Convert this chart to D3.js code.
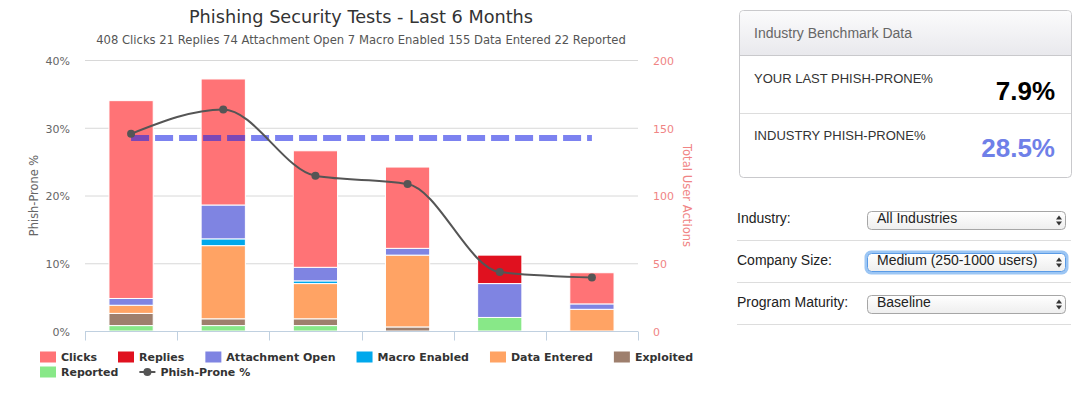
<!DOCTYPE html>
<html>
<head>
<meta charset="utf-8">
<script src="https://cdn.jsdelivr.net/npm/d3@7"></script>
<style>
  body { margin: 0; background: #fff; }
  svg { display: block; }
</style>
</head>
<body>
<div id="chart"></div>
<script>
// data
var tests = ["Test 1", "Test 2", "Test 3", "Test 4", "Test 5", "Test 6"];
var clicks      = [146, 93, 86, 60, 0, 23];
var replies     = [0, 0, 0, 0, 21, 0];
var attachment  = [5, 25, 10, 5, 25, 4];
var macro       = [0, 5, 2, 0, 0, 0];
var dataEntered = [6, 54, 26, 53, 0, 16];
var exploited   = [9, 5, 5, 3, 0, 0];
var reported    = [4, 4, 4, 0, 10, 0];
var phishProne  = [29.1, 32.7, 22.9, 21.7, 8.7, 7.9];
var industryProne = 28.5;
var leftTicks  = [0, 10, 20, 30, 40];
var rightTicks = [0, 50, 100, 150, 200];
var formLabels  = ["Industry:", "Company Size:", "Program Maturity:"];
var formValues  = ["All Industries", "Medium (250-1000 users)", "Baseline"];

var seriesNames  = ["Clicks", "Replies", "Attachment Open", "Macro Enabled", "Data Entered", "Exploited", "Reported"];
var seriesValues = [clicks, replies, attachment, macro, dataEntered, exploited, reported];
var seriesColors = ["#ff7376", "#e0111f", "#7f84e2", "#00a8ec", "#ffa364", "#9e7f6d", "#88e888"];

var width = 1081, height = 393;
var svg = d3.select("#chart").append("svg")
    .attr("width", width)
    .attr("height", height);

var plot = {left: 85, right: 638, top: 60, bottom: 331};

var x = d3.scaleBand()
    .domain(d3.range(tests.length))
    .range([plot.left, plot.right]);
var yLeft = d3.scaleLinear().domain([0, 40]).range([plot.bottom, plot.top]);
var yRight = d3.scaleLinear().domain([0, 200]).range([plot.bottom, plot.top]);

var chartFont = "'DejaVu Sans', sans-serif";

// title and totals
svg.append("text")
    .attr("x", 361).attr("y", 23)
    .attr("text-anchor", "middle")
    .style("font", "17.7px " + chartFont)
    .style("fill", "#333")
    .text("Phishing Security Tests - Last 6 Months");

var subtitle = [
    d3.sum(clicks) + " Clicks",
    d3.sum(replies) + " Replies",
    d3.sum(attachment) + " Attachment Open",
    d3.sum(macro) + " Macro Enabled",
    d3.sum(dataEntered) + " Data Entered",
    d3.sum(reported) + " Reported"
].join(" ");
svg.append("text")
    .attr("x", 361).attr("y", 44)
    .attr("text-anchor", "middle")
    .style("font", "11.6px " + chartFont)
    .style("fill", "#555")
    .text(subtitle);

// grid
svg.append("g").selectAll("line")
    .data(leftTicks.filter(function(d) { return d > 0; }))
    .enter().append("line")
    .attr("x1", plot.left).attr("x2", plot.right)
    .attr("y1", function(d) { return yLeft(d) + 0.5; })
    .attr("y2", function(d) { return yLeft(d) + 0.5; })
    .attr("stroke", "#d8d8d8");

// left axis
var leftAxis = svg.append("g")
    .attr("transform", "translate(" + (plot.left - 15) + ",0)")
    .call(d3.axisLeft(yLeft).tickValues(leftTicks).tickSize(0).tickPadding(0)
        .tickFormat(function(d) { return d + "%"; }));
leftAxis.select(".domain").remove();
leftAxis.selectAll("text")
    .attr("dy", "0.4em")
    .style("font", "11px " + chartFont)
    .style("fill", "#666");

svg.append("text")
    .attr("transform", "translate(38," + ((plot.top + plot.bottom) / 2) + ") rotate(-90)")
    .attr("text-anchor", "middle")
    .style("font", "11.4px " + chartFont)
    .style("fill", "#666")
    .text("Phish-Prone %");

// right axis
var rightAxis = svg.append("g")
    .attr("transform", "translate(" + (plot.right + 15) + ",0)")
    .call(d3.axisRight(yRight).tickValues(rightTicks).tickSize(0).tickPadding(0));
rightAxis.select(".domain").remove();
rightAxis.selectAll("text")
    .attr("dy", "0.4em")
    .style("font", "11px " + chartFont)
    .style("fill", "#f08484");

svg.append("text")
    .attr("transform", "translate(683," + ((plot.top + plot.bottom) / 2) + ") rotate(90)")
    .attr("text-anchor", "middle")
    .style("font", "11.6px " + chartFont)
    .style("fill", "#f08484")
    .text("Total User Actions");

// stacked bars (first series sits on top, like the source chart)
var rows = tests.map(function(t, i) {
    var r = {i: i};
    seriesNames.forEach(function(n, k) { r[n] = seriesValues[k][i]; });
    return r;
});
var stack = d3.stack().keys(seriesNames.slice().reverse());
var layers = stack(rows);
var barW = x.bandwidth() * 0.48;

svg.append("g").selectAll("g")
    .data(layers)
    .enter().append("g")
    .attr("fill", function(d) { return seriesColors[seriesNames.indexOf(d.key)]; })
    .selectAll("rect")
    .data(function(d) { return d.filter(function(p) { return p[1] > p[0]; }); })
    .enter().append("rect")
    .attr("x", function(d) { return x(d.data.i) + (x.bandwidth() - barW) / 2; })
    .attr("width", barW)
    .attr("y", function(d) { return yRight(d[1]); })
    .attr("height", function(d) { return yRight(d[0]) - yRight(d[1]); })
    .attr("stroke", "#fff")
    .attr("stroke-width", 1);

// x axis line and ticks
var xAxis = svg.append("g")
    .attr("transform", "translate(0," + (plot.bottom + 0.5) + ")");
xAxis.append("line")
    .attr("x1", plot.left).attr("x2", plot.right)
    .attr("stroke", "#c0d0e0");
xAxis.selectAll(".tick")
    .data(d3.range(tests.length + 1))
    .enter().append("line")
    .attr("x1", function(d) { return Math.round(plot.left + d * x.step()) + 0.5; })
    .attr("x2", function(d) { return Math.round(plot.left + d * x.step()) + 0.5; })
    .attr("y1", 0).attr("y2", 9)
    .attr("stroke", "#c0d0e0");

// industry benchmark dashed line
var cx = function(i) { return x(i) + x.bandwidth() / 2; };
svg.append("path")
    .datum(tests.map(function(t, i) { return [cx(i), yLeft(industryProne)]; }))
    .attr("d", d3.line())
    .attr("fill", "none")
    .attr("stroke", "rgba(30,40,230,0.58)")
    .attr("stroke-width", 6)
    .attr("stroke-dasharray", "18,6");

// phish-prone spline
svg.append("path")
    .datum(phishProne)
    .attr("d", d3.line()
        .x(function(d, i) { return cx(i); })
        .y(function(d) { return yLeft(d); })
        .curve(d3.curveMonotoneX))
    .attr("fill", "none")
    .attr("stroke", "#555")
    .attr("stroke-width", 2);

svg.append("g").selectAll("circle")
    .data(phishProne)
    .enter().append("circle")
    .attr("cx", function(d, i) { return cx(i); })
    .attr("cy", function(d) { return yLeft(d); })
    .attr("r", 4)
    .attr("fill", "#555");

// legend
var legend = svg.append("g");
var lx = 40, ly = 357, rowH = 15;
var items = seriesNames.map(function(n, k) { return {name: n, color: seriesColors[k], type: "box"}; });
items.push({name: "Phish-Prone %", color: "#555", type: "line"});
items.forEach(function(it) {
    var g = legend.append("g");
    var t = g.append("text")
        .attr("x", 21).attr("y", 0)
        .attr("dy", "0.35em")
        .style("font", "bold 11px " + chartFont)
        .style("fill", "#333")
        .text(it.name);
    var w = 21 + t.node().getComputedTextLength();
    if (lx + w > 700) { lx = 40; ly += rowH; }
    if (it.type === "box") {
        g.append("rect").attr("x", 0).attr("y", -5.5).attr("width", 16).attr("height", 11)
            .attr("fill", it.color);
    } else {
        g.append("line").attr("x1", 0).attr("x2", 16).attr("y1", 0).attr("y2", 0)
            .attr("stroke", it.color).attr("stroke-width", 2);
        g.append("circle").attr("cx", 8).attr("cy", 0).attr("r", 4).attr("fill", it.color);
    }
    g.attr("transform", "translate(" + lx + "," + ly + ")");
    lx += w + 21;
});

// benchmark panel
var panelFont = "'Liberation Sans', Arial, sans-serif";
var defs = svg.append("defs");
var grad = defs.append("linearGradient").attr("id", "hdr").attr("x1", 0).attr("x2", 0).attr("y1", 0).attr("y2", 1);
grad.append("stop").attr("offset", "0%").attr("stop-color", "#fbfbfc");
grad.append("stop").attr("offset", "100%").attr("stop-color", "#e9e9ed");
var sgrad = defs.append("linearGradient").attr("id", "sel").attr("x1", 0).attr("x2", 0).attr("y1", 0).attr("y2", 1);
sgrad.append("stop").attr("offset", "0%").attr("stop-color", "#ffffff");
sgrad.append("stop").attr("offset", "100%").attr("stop-color", "#eeeeee");

var panel = svg.append("g");
panel.append("rect")
    .attr("x", 739.5).attr("y", 10.5).attr("width", 332).attr("height", 167).attr("rx", 4)
    .attr("fill", "#fff").attr("stroke", "#c9c9cc");
panel.append("path")
    .attr("d", "M740,55 V15 Q740,11 744,11 H1067 Q1071,11 1071,15 V55 Z")
    .attr("fill", "url(#hdr)");
panel.append("line").attr("x1", 740).attr("x2", 1071).attr("y1", 55.5).attr("y2", 55.5).attr("stroke", "#c9c9cc");
panel.append("line").attr("x1", 740).attr("x2", 1071).attr("y1", 113.5).attr("y2", 113.5).attr("stroke", "#ddd");
panel.append("text").attr("x", 754).attr("y", 38)
    .style("font", "14px " + panelFont).style("fill", "#666")
    .text("Industry Benchmark Data");
panel.append("text").attr("x", 754).attr("y", 83)
    .style("font", "13px " + panelFont).style("fill", "#333")
    .text("YOUR LAST PHISH-PRONE%");
panel.append("text").attr("x", 1055).attr("y", 99.5).attr("text-anchor", "end")
    .style("font", "bold 26px " + panelFont).style("fill", "#000")
    .text(phishProne[phishProne.length - 1] + "%");
panel.append("text").attr("x", 754).attr("y", 140)
    .style("font", "13px " + panelFont).style("fill", "#333")
    .text("INDUSTRY PHISH-PRONE%");
panel.append("text").attr("x", 1055).attr("y", 157).attr("text-anchor", "end")
    .style("font", "bold 26px " + panelFont).style("fill", "#6f80e8")
    .text(industryProne + "%");

// filter form
var form = svg.append("g");
formLabels.forEach(function(lab, i) {
    var base = 223 + i * 42;
    form.append("text").attr("x", 737).attr("y", base)
        .style("font", "14px " + panelFont).style("fill", "#222")
        .text(lab);
    var sy = base - 12;
    if (i === 1) {
        form.append("rect").attr("x", 866).attr("y", sy - 1).attr("width", 201).attr("height", 21).attr("rx", 5)
            .attr("fill", "none").attr("stroke", "#9cc6f4").attr("stroke-width", 3);
    }
    form.append("rect").attr("x", 867.5).attr("y", sy + 0.5).attr("width", 198).attr("height", 18).attr("rx", 4)
        .attr("fill", "url(#sel)").attr("stroke", i === 1 ? "#5a9be6" : "#a6a6a6");
    form.append("text").attr("x", 877).attr("y", base)
        .style("font", "14px " + panelFont).style("fill", "#222")
        .text(formValues[i]);
    var ax = 1059, ay = sy + 9.5;
    form.append("path").attr("d", "M" + (ax - 3) + "," + (ay - 1) + " L" + ax + "," + (ay - 5) + " L" + (ax + 3) + "," + (ay - 1) + " Z").attr("fill", "#333");
    form.append("path").attr("d", "M" + (ax - 3) + "," + (ay + 1) + " L" + ax + "," + (ay + 5) + " L" + (ax + 3) + "," + (ay + 1) + " Z").attr("fill", "#333");
    form.append("line").attr("x1", 737).attr("x2", 1071).attr("y1", base + 17.5).attr("y2", base + 17.5).attr("stroke", "#ddd");
});
</script>
</body>
</html>
